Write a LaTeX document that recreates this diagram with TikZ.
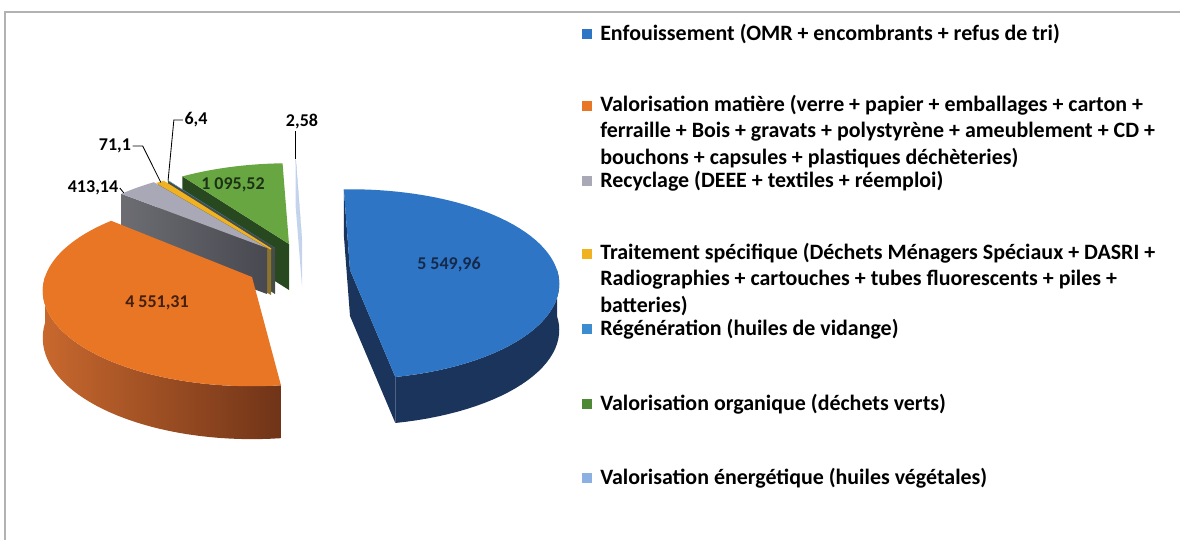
\documentclass[tikz,border=0pt]{standalone}
\usepackage{fontspec}
\setmainfont{Carlito}
\usepackage{tikz}

\definecolor{enfTop}{RGB}{46,117,198}
\definecolor{enfSide}{RGB}{26,52,92}
\definecolor{matTop}{RGB}{232,118,36}
\definecolor{matSideL}{RGB}{200,104,46}
\definecolor{matSideR}{RGB}{112,52,24}
\definecolor{recTop}{RGB}{168,168,182}
\definecolor{recSide}{RGB}{72,72,80}
\definecolor{trtTop}{RGB}{240,178,32}
\definecolor{trtSide}{RGB}{140,116,48}
\definecolor{regTop}{RGB}{60,140,208}
\definecolor{regSide}{RGB}{70,76,70}
\definecolor{orgTop}{RGB}{104,166,66}
\definecolor{orgSide}{RGB}{40,72,32}
\definecolor{eneTop}{RGB}{140,176,226}
\definecolor{eneSide}{RGB}{196,212,236}
\definecolor{legOrg}{RGB}{78,138,54}

\begin{document}
\begin{tikzpicture}[x=0.025cm, y=-0.025cm,
    declare function={sx(\a)=207*(1-0.15*sin(\a))*cos(\a); sy(\a)=-95*(1-0.15*sin(\a))*sin(\a); dz(\a)=46*(1-0.15*sin(\a));},
    val/.style={font=\fontsize{12.8}{15}\selectfont\bfseries, inner sep=1pt},
    leg/.style={font=\fontsize{15.6}{18.5}\selectfont\bfseries, anchor=base west, align=left, inner sep=0pt},
    sq/.style={minimum size=0.25cm, inner sep=0pt},
    lead/.style={black, line width=0.6pt}]
    \useasboundingbox (0,0) rectangle (1180,540);
    % Frame of the chart area
    \draw[gray!60, line width=0.8pt] (5,540) -- (5,12) -- (1180,12);

    % Valorisation energetique (thin slice)
    \begin{scope}[shift={(302,240)}]
        \fill[eneSide] (0,0) -- ({sx(92.1)},{sy(92.1)}) -- ++(0,46) -- (0,46) -- cycle;
        \fill[eneTop] (0,0) -- plot[domain=92.1:92, samples=2] ({sx(\x)},{sy(\x)}) -- cycle;
        \coordinate (ene) at ({sx(92)},{sy(92)});
    \end{scope}

    % Valorisation organique
    \begin{scope}[shift={(289,244)}]
        \fill[orgSide] (0,0) -- ({sx(125.9)},{sy(125.9)}) -- ++(0,46) -- (0,46) -- cycle;
        \fill[orgTop] (0,0) -- plot[domain=125.9:92.1, samples=20] ({sx(\x)},{sy(\x)}) -- cycle;
    \end{scope}

    % Regeneration
    \begin{scope}[shift={(275,248)}]
        \fill[regSide] (0,0) -- ({sx(126.1)},{sy(126.1)}) -- ++(0,46) -- (0,46) -- cycle;
        \fill[regTop] (0,0) -- plot[domain=126.1:125.9, samples=2] ({sx(\x)},{sy(\x)}) -- cycle;
        \coordinate (reg) at ({sx(126)},{sy(126)});
    \end{scope}

    % Traitement specifique
    \begin{scope}[shift={(271,249)}]
        \fill[trtSide] (0,0) -- ({sx(128.3)},{sy(128.3)}) -- ++(0,46) -- (0,46) -- cycle;
        \filldraw[trtTop, line width=1pt] (0,0) -- plot[domain=128.3:126.1, samples=3] ({sx(\x)},{sy(\x)}) -- cycle;
        \coordinate (trt) at ({sx(127.2)},{sy(127.2)});
    \end{scope}

    % Recyclage
    \begin{scope}[shift={(267,248)}]
        \shade[left color=recSide!80, right color=recSide] (0,0) -- ({sx(141)},{sy(141)}) -- ++(0,46) -- (0,46) -- cycle;
        \fill[recTop] (0,0) -- plot[domain=141:128.3, samples=8] ({sx(\x)},{sy(\x)}) -- cycle;
        \coordinate (rec) at ({sx(140)},{sy(140)});
    \end{scope}

    % Valorisation matiere
    \begin{scope}[shift={(252,277)}]
        \shade[left color=matSideL, right color=matSideR] plot[domain=-180:-83, samples=40] ({sx(\x)},{sy(\x)})
            -- plot[domain=-83:-180, samples=40] ({sx(\x)},{sy(\x)+dz(\x)}) -- cycle;
        \fill[matTop] (0,0) -- plot[domain=-83:-221, samples=60] ({sx(\x)},{sy(\x)}) -- cycle;
    \end{scope}

    % Enfouissement
    \begin{scope}[shift={(350,270)}]
        \fill[enfSide] (0,0) -- ({sx(92)},{sy(92)}) -- ++(0,46) -- (0,46) -- cycle;
        \fill[enfSide] (0,0) -- ({sx(-79)},{sy(-79)}) -- ++(0,46) -- (0,46) -- cycle;
        \fill[enfSide] plot[domain=-79:0, samples=30] ({sx(\x)},{sy(\x)})
            -- plot[domain=0:-79, samples=30] ({sx(\x)},{sy(\x)+46}) -- cycle;
        \fill[enfTop] (0,0) -- plot[domain=92:-79, samples=60] ({sx(\x)},{sy(\x)}) -- cycle;
    \end{scope}

    % Values
    \node[val, text=enfSide!80!black] (vEnf) at (449,265) {5 549,96};
    \node[val, text=matSideR!60!black] (vMat) at (157,303) {4 551,31};
    \node[val, text=orgSide!70!black] (vOrg) at (233,185) {1 095,52};
    \node[val] (vRec) at (93,188) {413,14};
    \node[val] (vTrt) at (115,146) {71,1};
    \node[val] (vReg) at (196,120) {6,4};
    \node[val] (vEne) at (302,122) {2,58};
    \draw[lead] (vRec.east) -- (rec);
    \draw[lead] (vTrt.east) -- ++(10,0) -- (trt);
    \draw[lead] (vReg.west) -- ++(-9,0) -- (reg);
    \draw[lead] (ene |- vEne.south) -- (ene);

    % Legend (\k = number of extra lines)
    \foreach \n/\yb/\k/\col/\txt in {
        enf/40/0/enfTop/{Enfouissement (OMR + encombrants + refus de tri)},
        mat/112/2/matTop/{Valorisation matière (verre + papier + emballages + carton +\\ferraille + Bois + gravats + polystyrène + ameublement + CD +\\bouchons + capsules + plastiques déchèteries)},
        rec/187/0/recTop/{Recyclage (DEEE + textiles + réemploi)},
        trt/260/2/trtTop/{Traitement spécifique (Déchets Ménagers Spéciaux + DASRI +\\Radiographies + cartouches + tubes fluorescents + piles +\\batteries)},
        reg/335/0/regTop/{Régénération (huiles de vidange)},
        org/410/0/legOrg/{Valorisation organique (déchets verts)},
        ene/484/0/eneTop/{Valorisation énergétique (huiles végétales)}} {
        \node[sq, fill=\col] (sq\n) at (587,\yb-6.5) {};
        \node[leg] (leg\n) at (600,\yb+\k*26) {\txt};
    }
\end{tikzpicture}
\end{document}
